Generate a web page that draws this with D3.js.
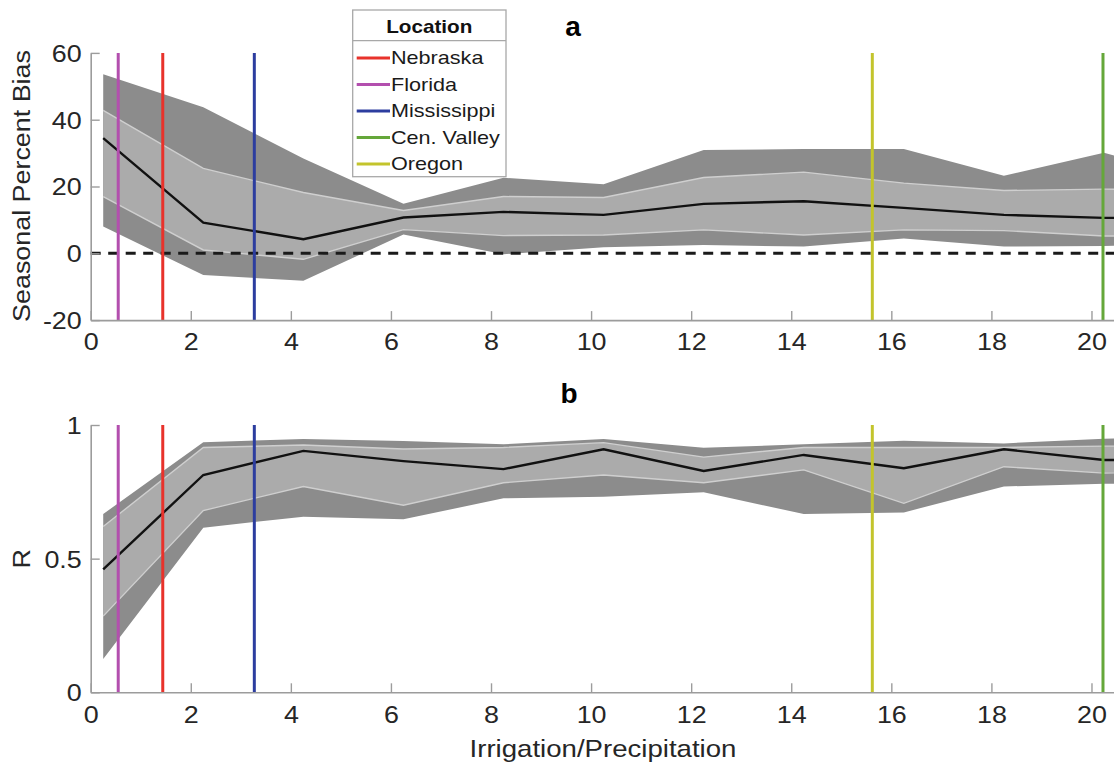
<!DOCTYPE html>
<html>
<head>
<meta charset="utf-8">
<script src="https://cdn.jsdelivr.net/npm/d3@7"></script>
<style>
  html, body { margin: 0; padding: 0; background: #fff; }
  svg { display: block; font-family: 'Liberation Sans', Arial, sans-serif; }
</style>
</head>
<body>
<svg id="chart" width="1114" height="765"></svg>
<script>
// irrigation/precipitation bins (the last one sits past the cropped right edge)
const xBins = [0.25, 2.25, 4.25, 6.25, 8.25, 10.25, 12.25, 14.25, 16.25, 18.25, 20.25, 22.25];
const xTicks = [0, 2, 4, 6, 8, 10, 12, 14, 16, 18, 20];

// panel a: seasonal percent bias
const biasMin = [8, -6.5, -8.2, 5.6, -0.3, 1.8, 2.5, 2, 4.4, 2, 2.2, 2.6];
const biasQ1 = [17, 1, -1.8, 7.1, 5.3, 5.5, 7, 5.5, 7, 6.8, 5.2, 5.2];
const biasMed = [34.5, 9.2, 4.2, 10.7, 12.4, 11.5, 14.8, 15.6, 13.6, 11.5, 10.6, 10.8];
const biasQ3 = [42.8, 25.4, 18.2, 12.8, 17, 16.7, 22.7, 24.3, 21, 18.8, 19.2, 19];
const biasMax = [53.6, 43.7, 28.4, 14.8, 22.6, 20.7, 30.9, 31.2, 31.2, 23.2, 30.1, 22];
const biasTicks = [-20, 0, 20, 40, 60];

// panel b: correlation R
const rMin = [0.125, 0.616, 0.657, 0.647, 0.726, 0.732, 0.748, 0.667, 0.673, 0.77, 0.78, 0.78];
const rQ1 = [0.285, 0.68, 0.77, 0.70, 0.784, 0.813, 0.784, 0.832, 0.707, 0.844, 0.82, 0.83];
const rMed = [0.46, 0.813, 0.903, 0.865, 0.835, 0.909, 0.828, 0.888, 0.838, 0.909, 0.869, 0.87];
const rQ3 = [0.62, 0.916, 0.925, 0.91, 0.916, 0.934, 0.88, 0.916, 0.916, 0.916, 0.921, 0.92];
const rMax = [0.667, 0.935, 0.948, 0.94, 0.928, 0.948, 0.915, 0.928, 0.941, 0.931, 0.949, 0.952];
const rTicks = [0, 0.5, 1];

// locations (legend order)
const locNames = ['Nebraska', 'Florida', 'Mississippi', 'Cen. Valley', 'Oregon'];
const locValues = [1.44, 0.55, 3.27, 20.23, 15.62];
const locColors = ['#e8322b', '#b34fae', '#2c3d9f', '#65a73a', '#c3c42c'];

const svg = d3.select('#chart');

const x = d3.scaleLinear().domain([0, 20.45]).range([90.7, 1114]);
const yA = d3.scaleLinear().domain([-20, 60]).range([320.1, 52.9]);
const yB = d3.scaleLinear().domain([0, 1]).range([692.3, 425]);

const axisColor = '#9c9c9c';
const textColor = '#262626';

function drawPanel(y, lo, q1, med, q3, hi, yTicks, yLabel, labelY, letter, letterX, letterY, zeroLine) {
    const g = svg.append('g');
    const rows = xBins.map((d, i) => ({x: d, lo: lo[i], q1: q1[i], med: med[i], q3: q3[i], hi: hi[i]}));

    // outer band
    g.append('path')
        .datum(rows)
        .attr('fill', '#8c8c8c')
        .attr('d', d3.area().x(d => x(d.x)).y0(d => y(d.lo)).y1(d => y(d.hi)));

    // inner band
    g.append('path')
        .datum(rows)
        .attr('fill', '#ababab')
        .attr('d', d3.area().x(d => x(d.x)).y0(d => y(d.q1)).y1(d => y(d.q3)));

    ['q1', 'q3'].forEach(k => {
        g.append('path')
            .datum(rows)
            .attr('fill', 'none')
            .attr('stroke', '#cfcfcf')
            .attr('stroke-width', 1.4)
            .attr('d', d3.line().x(d => x(d.x)).y(d => y(d[k])));
    });

    // median
    g.append('path')
        .datum(rows)
        .attr('fill', 'none')
        .attr('stroke', '#111')
        .attr('stroke-width', 2.4)
        .attr('d', d3.line().x(d => x(d.x)).y(d => y(d.med)));

    if (zeroLine) {
        g.append('line')
            .attr('x1', x(0)).attr('x2', x(20.45))
            .attr('y1', y(0)).attr('y2', y(0))
            .attr('stroke', '#1a1a1a')
            .attr('stroke-width', 3)
            .attr('stroke-dasharray', '10,7.5');
    }

    // location lines
    const dom = y.domain();
    g.selectAll('.loc')
        .data(locValues)
        .enter()
        .append('line')
        .attr('x1', d => x(d)).attr('x2', d => x(d))
        .attr('y1', y(dom[1])).attr('y2', y(dom[0]))
        .attr('stroke', (d, i) => locColors[i])
        .attr('stroke-width', 3);

    // axes
    const xAxis = g.append('g')
        .attr('transform', `translate(0,${y(dom[0])})`)
        .call(d3.axisBottom(x).tickValues(xTicks).tickSizeInner(-9).tickSizeOuter(0).tickFormat(d3.format('d')));
    xAxis.selectAll('text')
        .attr('y', 22)
        .attr('dy', '0.35em')
        .attr('transform', 'scale(1.12,1)');

    const yAxis = g.append('g')
        .attr('transform', `translate(${x(0)},0)`)
        .call(d3.axisLeft(y).tickValues(yTicks).tickSizeInner(-9).tickSizeOuter(0).tickPadding(8).tickFormat(d => String(d)));
    yAxis.selectAll('text')
        .attr('dy', '0.35em')
        .attr('transform', 'scale(1.12,1)');

    [xAxis, yAxis].forEach(a => {
        a.select('.domain').attr('stroke', axisColor).attr('stroke-width', 1.6);
        a.selectAll('.tick line').attr('stroke', axisColor).attr('stroke-width', 1.4);
        a.selectAll('text')
            .attr('fill', textColor)
            .style('font-size', '24px')
            .style('font-family', "'Liberation Sans', Arial, sans-serif");
    });

    // y label
    svg.append('text')
        .attr('transform', `translate(30,${labelY}) rotate(-90) scale(1.12,1)`)
        .attr('text-anchor', 'middle')
        .attr('fill', textColor)
        .style('font-size', '24px')
        .text(yLabel);

    // panel letter
    svg.append('text')
        .attr('x', letterX)
        .attr('y', letterY)
        .attr('text-anchor', 'middle')
        .attr('fill', '#000')
        .style('font-size', '28px')
        .style('font-weight', 'bold')
        .text(letter);
}

drawPanel(yA, biasMin, biasQ1, biasMed, biasQ3, biasMax, biasTicks, 'Seasonal Percent Bias', 186, 'a', 573, 36, true);
drawPanel(yB, rMin, rQ1, rMed, rQ3, rMax, rTicks, 'R', 558.7, 'b', 569, 403, false);

// x label
svg.append('text')
    .attr('transform', 'translate(603,756.7) scale(1.15,1)')
    .attr('text-anchor', 'middle')
    .attr('fill', textColor)
    .style('font-size', '24px')
    .text('Irrigation/Precipitation');

// legend
const legend = svg.append('g');
legend.append('rect')
    .attr('x', 352.7).attr('y', 10)
    .attr('width', 153.3).attr('height', 166.7)
    .attr('fill', '#fff')
    .attr('stroke', '#a8a8a8')
    .attr('stroke-width', 1.3);
legend.append('line')
    .attr('x1', 352.7).attr('x2', 506)
    .attr('y1', 40.7).attr('y2', 40.7)
    .attr('stroke', '#a8a8a8')
    .attr('stroke-width', 1.3);
legend.append('text')
    .attr('transform', 'translate(429.3,33.3) scale(1.15,1)')
    .attr('text-anchor', 'middle')
    .attr('fill', '#111')
    .style('font-size', '18px')
    .style('font-weight', 'bold')
    .text('Location');

const items = legend.selectAll('.item')
    .data(locNames)
    .enter()
    .append('g')
    .attr('transform', (d, i) => `translate(0,${64 + i * 26.5})`);
items.append('line')
    .attr('x1', 356.7).attr('x2', 390)
    .attr('y1', -6).attr('y2', -6)
    .attr('stroke', (d, i) => locColors[i])
    .attr('stroke-width', 3);
items.append('text')
    .attr('transform', 'translate(391,0) scale(1.2,1)')
    .attr('fill', '#1a1a1a')
    .style('font-size', '18px')
    .text(d => d);
</script>
</body>
</html>
